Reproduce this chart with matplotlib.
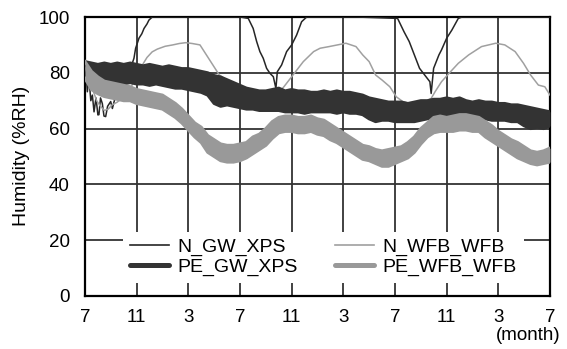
import numpy as np
import matplotlib
matplotlib.use('Agg')
import matplotlib.pyplot as plt

plt.rcParams['font.family'] = ['Liberation Sans', 'DejaVu Sans']

## Data (month 0 = July of the first year)
tick_months = [0, 4, 8, 12, 16, 20, 24, 28, 32, 36]
tick_labels = ['7', '11', '3', '7', '11', '3', '7', '11', '3', '7']

# thin lines: N_GW_XPS, N_WFB_WFB
ngw_month = [0.0, 0.05, 0.18, 0.31, 0.45, 0.57, 0.7, 0.85, 1.0, 1.08,
             1.2, 1.34, 1.47, 1.6, 1.75, 1.99, 2.12, 2.3, 2.5, 2.7,
             2.89, 3.15, 3.35, 3.53, 3.79, 3.92, 4.18, 4.4, 4.57, 4.8,
             4.95, 5.21, 8.0, 12.0, 12.64, 13.02, 13.29, 13.54, 13.8, 14.06,
             14.32, 14.58, 14.78, 14.89, 15.22, 15.61, 16.0, 16.38, 16.77, 17.16,
             21.0, 24.2, 24.7, 25.1, 25.5, 25.9, 26.3, 26.7, 26.8, 26.99,
             27.4, 27.6, 28.0, 28.4, 28.9, 29.2, 33.0, 36.0]
ngw_rh = [83.0, 82.8, 73.2, 78.0, 70.0, 72.0, 66.0, 71.0, 64.9, 65.0,
          71.0, 69.0, 64.5, 64.3, 68.0, 69.7, 67.2, 70.5, 72.0, 74.0,
          75.6, 78.6, 80.0, 81.6, 85.2, 88.8, 92.4, 94.0, 95.9, 97.5,
          98.9, 100.0, 100.0, 100.0, 99.5, 95.9, 91.2, 87.6, 85.2, 81.6,
          79.8, 78.6, 74.4, 80.4, 82.8, 87.6, 90.0, 93.5, 98.3, 100.0,
          100.0, 99.5, 94.7, 91.2, 86.4, 81.6, 79.2, 76.8, 72.6, 81.6,
          86.4, 88.2, 92.4, 95.3, 99.5, 100.0, 100.0, 100.0]

nwfb_month = [0, 0.3, 0.6, 0.9, 1.2, 1.5, 1.8, 2.1, 2.5, 2.9,
              3.3, 3.7, 4.0, 4.4, 4.8, 5.2, 5.6, 6.2, 6.8, 7.3,
              7.8, 8.3, 8.9, 9.4, 9.9, 10.4, 10.97, 11.5, 12.0, 12.8,
              13.5, 14.1, 14.4, 14.8, 15.4, 15.9, 16.4, 16.9, 17.7, 18.2,
              18.9, 20.2, 20.98, 21.5, 22.0, 22.5, 23.0, 23.6, 24.1, 24.6,
              25.4, 26.1, 26.8, 27.1, 27.6, 28.3, 28.9, 29.7, 30.7, 31.8,
              32.5, 33.3, 33.95, 34.5, 35.1, 35.6, 36.0]
nwfb_rh = [82, 78, 74, 70, 68, 66.5, 67, 68.5, 69.5, 71,
           73, 76, 79, 82.5, 85.5, 87.5, 88.5, 89.5, 90, 90.5,
           90.8, 90.5, 90, 86.4, 82.8, 79.2, 77.4, 75.6, 73.2, 70.3,
           68.5, 67.3, 68.5, 72, 75, 78, 81, 84, 87.6, 88.8,
           89.4, 90.6, 89.4, 86.4, 84, 79.2, 77.4, 75, 71.4, 69.7,
           68.5, 69, 70.8, 73.2, 76.8, 80.4, 83.4, 86.4, 89.4, 90.6,
           90, 87.6, 83.4, 79.2, 75.6, 75, 72]

# thick lines: daily scatter band (upper / lower edge), every half month
pe_month = np.arange(0, 36.5, 0.5)
pegw_hi = [84, 83.5, 83, 83.5, 83, 83.5, 83, 83.5, 83, 82.5,
           83, 82.5, 82, 82.5, 82, 81.5, 81.5, 81, 80.5, 80,
           79, 78.5, 77.5, 76.5, 75.5, 74.5, 74, 73.5, 73.5, 74,
           74.5, 73.5, 74, 73.5, 73.5, 73, 73, 73.5, 73, 73.5,
           73, 73, 72.5, 72, 71, 70.5, 70, 69.5, 69.5, 69.5,
           69, 69.5, 70, 70, 70.5, 70.5, 71, 70.5, 71, 70,
           69.5, 70, 69.5, 69.5, 69, 69, 68.5, 68.5, 68, 67.5,
           67, 66.5, 66]
pegw_lo = [78, 77, 76.5, 76.5, 77, 76.5, 76, 76.5, 76, 76,
           75.5, 76, 75.5, 75, 74.5, 74.5, 74, 73.5, 73, 72,
           69, 68, 68.5, 68, 67.5, 67, 67, 66.5, 66.5, 66.5,
           66.5, 66, 66, 66, 65.5, 66, 66, 66, 66, 65.5,
           66, 65.5, 65.5, 65, 63.5, 62.5, 63, 63, 62.5, 62.5,
           62.5, 62.5, 63, 63.5, 64, 64, 64, 64, 64, 64,
           63.5, 63.5, 63.5, 63, 63, 63, 62.5, 62.5, 61, 60,
           60.5, 60, 61]

pewfb_hi = [84, 80.5, 78.5, 77, 76.5, 76, 75.5, 75, 74, 73.5,
            73, 72.5, 72, 70.5, 69, 67, 64.5, 62, 60.5, 57.5,
            56, 54.5, 54, 54, 54.5, 55, 57, 58, 60, 62.5,
            64, 64.5, 64.5, 64, 64, 64.5, 63.5, 63, 61.5, 60,
            58.5, 57, 55.5, 54, 53.5, 52.5, 52, 52.5, 53, 53.5,
            55, 57, 60, 62, 64, 64.5, 64, 64.5, 65, 65,
            64.5, 64, 62.5, 61, 59, 57.5, 56, 55, 53.5, 52,
            51.5, 52, 53]
pewfb_lo = [78, 74, 72.5, 71.5, 71, 70.5, 70, 70, 69, 68.5,
            68, 67.5, 67, 65.5, 64, 62, 59.5, 57, 55, 51.5,
            50, 48.5, 48, 48, 48.5, 49.5, 51, 52.5, 54, 56.5,
            58.5, 59, 59, 58.5, 58.5, 59, 58, 57.5, 56, 55,
            53.5, 52, 50.5, 49, 48.5, 47.5, 46.5, 46.5, 47.5, 48.5,
            49.5, 51.5, 54.5, 57, 58.5, 59, 59, 59, 59.5, 59.5,
            59, 59, 57, 55.5, 54, 52.5, 51, 49.5, 48.5, 47.5,
            47, 47.5, 48]

dark = '#333333'
light = '#999999'

fig = plt.figure(figsize=(5.67, 3.49), dpi=100)
ax = fig.add_axes([85 / 567, 1 - 296 / 349, 465 / 567, 279 / 349])

## thin series first (they sit under the thick ones)
h1, = ax.plot(ngw_month, ngw_rh, color='#262626', lw=1.1, label='N_GW_XPS', zorder=3)
h2, = ax.plot(nwfb_month, nwfb_rh, color='#a0a0a0', lw=1.1, label='N_WFB_WFB', zorder=3)

## thick series drawn as their daily band
ax.fill_between(pe_month, pegw_lo, pegw_hi, color=dark, lw=0, zorder=4)
h3, = ax.plot(pe_month, pegw_hi, color=dark, lw=2.2, solid_joinstyle='round', label='PE_GW_XPS', zorder=4)
ax.plot(pe_month, pegw_lo, color=dark, lw=2.2, solid_joinstyle='round', zorder=4)
ax.fill_between(pe_month, pewfb_lo, pewfb_hi, color=light, lw=0, zorder=5)
h4, = ax.plot(pe_month, pewfb_hi, color=light, lw=2.2, solid_joinstyle='round', label='PE_WFB_WFB', zorder=5)
ax.plot(pe_month, pewfb_lo, color=light, lw=2.2, solid_joinstyle='round', zorder=5)

ax.set_xlim(0, 36)
ax.set_ylim(0, 100)
ax.set_xticks(tick_months)
ax.set_xticklabels(tick_labels)
ax.set_yticks([0, 20, 40, 60, 80, 100])
ax.tick_params(axis='both', length=0, labelsize=13.5)
ax.tick_params(axis='y', pad=11)
ax.tick_params(axis='x', pad=9)
ax.grid(True, color='#333333', lw=1.3)
ax.set_axisbelow(True)
for s in ax.spines.values():
    s.set_color('black')
    s.set_linewidth(1.6)

leg = ax.legend(handles=[h1, h3, h2, h4], ncol=2, loc='lower left',
                bbox_to_anchor=(0.082, 0.047), borderaxespad=0, fontsize=14,
                frameon=True, fancybox=False, facecolor='white', edgecolor='none',
                framealpha=1, handlelength=2.0, handletextpad=0.45,
                columnspacing=1.9, labelspacing=0.1, borderpad=0.35)
leg.set_zorder(10)
for lh in leg.legend_handles[1::2]:
    lh.set_linewidth(3.6)
    lh.set_solid_capstyle('round')
for lh in leg.legend_handles[0::2]:
    lh.set_linewidth(1.2)

fig.text(22 / 567, 1 - 156 / 349, 'Humidity (%RH)', rotation=90, fontsize=14,
         ha='center', va='center')
fig.text(528 / 567, 1 - 335 / 349, '(month)', fontsize=13.5, ha='center', va='center')

fig.savefig('out.png', dpi=100)
